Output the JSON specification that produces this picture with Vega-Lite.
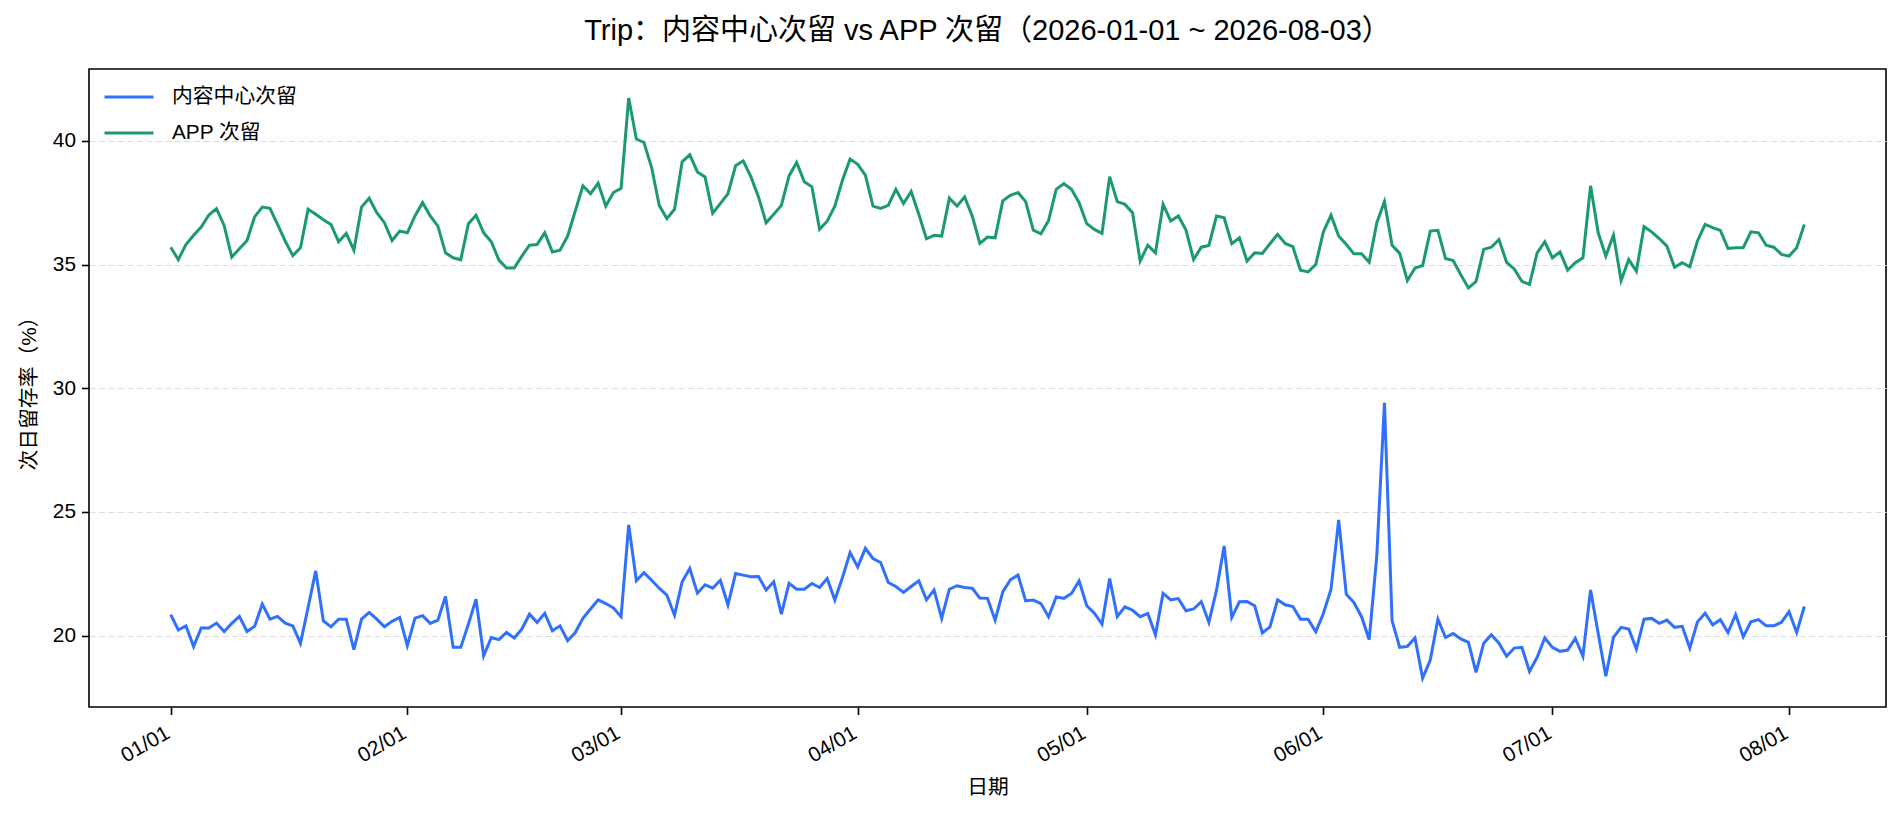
{
"$schema":"https://vega.github.io/schema/vega-lite/v6.json",
"width":1797,"height":638,
"autosize":"none",
"padding":{"left":89,"top":69,"right":18,"bottom":109},
"background":"white",
"title":{"text":"Trip：内容中心次留 vs APP 次留（2026-01-01 ~ 2026-08-03）","fontSize":29,"fontWeight":"normal","color":"black","anchor":"middle","baseline":"bottom","offset":-5.5},
"datasets":{
"content":[
{"date":"2026-01-01","value":20.85},{"date":"2026-01-02","value":20.23},{"date":"2026-01-03","value":20.40},{"date":"2026-01-04","value":19.56},{"date":"2026-01-05","value":20.31},{"date":"2026-01-06","value":20.31},{"date":"2026-01-07","value":20.51},{"date":"2026-01-08","value":20.17},{"date":"2026-01-09","value":20.50},{"date":"2026-01-10","value":20.78},{"date":"2026-01-11","value":20.17},{"date":"2026-01-12","value":20.38},{"date":"2026-01-13","value":21.28},{"date":"2026-01-14","value":20.67},{"date":"2026-01-15","value":20.78},{"date":"2026-01-16","value":20.51},{"date":"2026-01-17","value":20.40},{"date":"2026-01-18","value":19.69},{"date":"2026-01-19","value":21.14},{"date":"2026-01-20","value":22.62},{"date":"2026-01-21","value":20.60},{"date":"2026-01-22","value":20.36},{"date":"2026-01-23","value":20.67},{"date":"2026-01-24","value":20.67},{"date":"2026-01-25","value":19.44},{"date":"2026-01-26","value":20.67},{"date":"2026-01-27","value":20.94},{"date":"2026-01-28","value":20.67},{"date":"2026-01-29","value":20.36},{"date":"2026-01-30","value":20.58},{"date":"2026-01-31","value":20.74},
{"date":"2026-02-01","value":19.60},{"date":"2026-02-02","value":20.71},{"date":"2026-02-03","value":20.81},{"date":"2026-02-04","value":20.50},{"date":"2026-02-05","value":20.63},{"date":"2026-02-06","value":21.59},{"date":"2026-02-07","value":19.53},{"date":"2026-02-08","value":19.53},{"date":"2026-02-09","value":20.47},{"date":"2026-02-10","value":21.48},{"date":"2026-02-11","value":19.19},{"date":"2026-02-12","value":19.93},{"date":"2026-02-13","value":19.84},{"date":"2026-02-14","value":20.13},{"date":"2026-02-15","value":19.91},{"date":"2026-02-16","value":20.27},{"date":"2026-02-17","value":20.87},{"date":"2026-02-18","value":20.54},{"date":"2026-02-19","value":20.91},{"date":"2026-02-20","value":20.20},{"date":"2026-02-21","value":20.40},{"date":"2026-02-22","value":19.80},{"date":"2026-02-23","value":20.13},{"date":"2026-02-24","value":20.70},{"date":"2026-02-25","value":21.08},{"date":"2026-02-26","value":21.45},{"date":"2026-02-27","value":21.30},{"date":"2026-02-28","value":21.12},
{"date":"2026-03-01","value":20.77},{"date":"2026-03-02","value":24.48},{"date":"2026-03-03","value":22.22},{"date":"2026-03-04","value":22.55},{"date":"2026-03-05","value":22.24},{"date":"2026-03-06","value":21.92},{"date":"2026-03-07","value":21.64},{"date":"2026-03-08","value":20.83},{"date":"2026-03-09","value":22.18},{"date":"2026-03-10","value":22.72},{"date":"2026-03-11","value":21.72},{"date":"2026-03-12","value":22.06},{"date":"2026-03-13","value":21.92},{"date":"2026-03-14","value":22.24},{"date":"2026-03-15","value":21.25},{"date":"2026-03-16","value":22.51},{"date":"2026-03-17","value":22.45},{"date":"2026-03-18","value":22.38},{"date":"2026-03-19","value":22.39},{"date":"2026-03-20","value":21.85},{"date":"2026-03-21","value":22.18},{"date":"2026-03-22","value":20.87},{"date":"2026-03-23","value":22.12},{"date":"2026-03-24","value":21.88},{"date":"2026-03-25","value":21.88},{"date":"2026-03-26","value":22.11},{"date":"2026-03-27","value":21.95},{"date":"2026-03-28","value":22.31},{"date":"2026-03-29","value":21.44},{"date":"2026-03-30","value":22.35},{"date":"2026-03-31","value":23.36},
{"date":"2026-04-01","value":22.78},{"date":"2026-04-02","value":23.53},{"date":"2026-04-03","value":23.12},{"date":"2026-04-04","value":22.96},{"date":"2026-04-05","value":22.15},{"date":"2026-04-06","value":21.99},{"date":"2026-04-07","value":21.75},{"date":"2026-04-08","value":21.99},{"date":"2026-04-09","value":22.22},{"date":"2026-04-10","value":21.45},{"date":"2026-04-11","value":21.85},{"date":"2026-04-12","value":20.70},{"date":"2026-04-13","value":21.88},{"date":"2026-04-14","value":22.02},{"date":"2026-04-15","value":21.95},{"date":"2026-04-16","value":21.92},{"date":"2026-04-17","value":21.52},{"date":"2026-04-18","value":21.51},{"date":"2026-04-19","value":20.63},{"date":"2026-04-20","value":21.77},{"date":"2026-04-21","value":22.26},{"date":"2026-04-22","value":22.45},{"date":"2026-04-23","value":21.41},{"date":"2026-04-24","value":21.44},{"date":"2026-04-25","value":21.30},{"date":"2026-04-26","value":20.77},{"date":"2026-04-27","value":21.57},{"date":"2026-04-28","value":21.51},{"date":"2026-04-29","value":21.71},{"date":"2026-04-30","value":22.22},
{"date":"2026-05-01","value":21.21},{"date":"2026-05-02","value":20.91},{"date":"2026-05-03","value":20.47},{"date":"2026-05-04","value":22.31},{"date":"2026-05-05","value":20.78},{"date":"2026-05-06","value":21.17},{"date":"2026-05-07","value":21.03},{"date":"2026-05-08","value":20.77},{"date":"2026-05-09","value":20.90},{"date":"2026-05-10","value":20.04},{"date":"2026-05-11","value":21.71},{"date":"2026-05-12","value":21.45},{"date":"2026-05-13","value":21.50},{"date":"2026-05-14","value":21.01},{"date":"2026-05-15","value":21.08},{"date":"2026-05-16","value":21.38},{"date":"2026-05-17","value":20.54},{"date":"2026-05-18","value":21.84},{"date":"2026-05-19","value":23.63},{"date":"2026-05-20","value":20.74},{"date":"2026-05-21","value":21.37},{"date":"2026-05-22","value":21.38},{"date":"2026-05-23","value":21.21},{"date":"2026-05-24","value":20.11},{"date":"2026-05-25","value":20.36},{"date":"2026-05-26","value":21.45},{"date":"2026-05-27","value":21.25},{"date":"2026-05-28","value":21.18},{"date":"2026-05-29","value":20.67},{"date":"2026-05-30","value":20.67},{"date":"2026-05-31","value":20.16},
{"date":"2026-06-01","value":20.90},{"date":"2026-06-02","value":21.88},{"date":"2026-06-03","value":24.68},{"date":"2026-06-04","value":21.68},{"date":"2026-06-05","value":21.34},{"date":"2026-06-06","value":20.77},{"date":"2026-06-07","value":19.84},{"date":"2026-06-08","value":23.25},{"date":"2026-06-09","value":29.41},{"date":"2026-06-10","value":20.60},{"date":"2026-06-11","value":19.53},{"date":"2026-06-12","value":19.57},{"date":"2026-06-13","value":19.91},{"date":"2026-06-14","value":18.29},{"date":"2026-06-15","value":19.02},{"date":"2026-06-16","value":20.67},{"date":"2026-06-17","value":19.93},{"date":"2026-06-18","value":20.09},{"date":"2026-06-19","value":19.87},{"date":"2026-06-20","value":19.73},{"date":"2026-06-21","value":18.52},{"date":"2026-06-22","value":19.70},{"date":"2026-06-23","value":20.04},{"date":"2026-06-24","value":19.70},{"date":"2026-06-25","value":19.17},{"date":"2026-06-26","value":19.50},{"date":"2026-06-27","value":19.53},{"date":"2026-06-28","value":18.56},{"date":"2026-06-29","value":19.13},{"date":"2026-06-30","value":19.91},
{"date":"2026-07-01","value":19.53},{"date":"2026-07-02","value":19.37},{"date":"2026-07-03","value":19.42},{"date":"2026-07-04","value":19.89},{"date":"2026-07-05","value":19.17},{"date":"2026-07-06","value":21.85},{"date":"2026-07-07","value":20.09},{"date":"2026-07-08","value":18.36},{"date":"2026-07-09","value":19.93},{"date":"2026-07-10","value":20.34},{"date":"2026-07-11","value":20.27},{"date":"2026-07-12","value":19.46},{"date":"2026-07-13","value":20.67},{"date":"2026-07-14","value":20.70},{"date":"2026-07-15","value":20.50},{"date":"2026-07-16","value":20.63},{"date":"2026-07-17","value":20.34},{"date":"2026-07-18","value":20.38},{"date":"2026-07-19","value":19.50},{"date":"2026-07-20","value":20.56},{"date":"2026-07-21","value":20.91},{"date":"2026-07-22","value":20.44},{"date":"2026-07-23","value":20.65},{"date":"2026-07-24","value":20.13},{"date":"2026-07-25","value":20.85},{"date":"2026-07-26","value":19.96},{"date":"2026-07-27","value":20.56},{"date":"2026-07-28","value":20.65},{"date":"2026-07-29","value":20.40},{"date":"2026-07-30","value":20.40},{"date":"2026-07-31","value":20.54},
{"date":"2026-08-01","value":20.97},{"date":"2026-08-02","value":20.13},{"date":"2026-08-03","value":21.18}
],
"app":[
{"date":"2026-01-01","value":35.70},{"date":"2026-01-02","value":35.20},{"date":"2026-01-03","value":35.81},{"date":"2026-01-04","value":36.18},{"date":"2026-01-05","value":36.51},{"date":"2026-01-06","value":37.00},{"date":"2026-01-07","value":37.26},{"date":"2026-01-08","value":36.58},{"date":"2026-01-09","value":35.30},{"date":"2026-01-10","value":35.64},{"date":"2026-01-11","value":35.97},{"date":"2026-01-12","value":36.93},{"date":"2026-01-13","value":37.32},{"date":"2026-01-14","value":37.27},{"date":"2026-01-15","value":36.62},{"date":"2026-01-16","value":35.95},{"date":"2026-01-17","value":35.36},{"date":"2026-01-18","value":35.68},{"date":"2026-01-19","value":37.23},{"date":"2026-01-20","value":37.03},{"date":"2026-01-21","value":36.81},{"date":"2026-01-22","value":36.62},{"date":"2026-01-23","value":35.92},{"date":"2026-01-24","value":36.26},{"date":"2026-01-25","value":35.58},{"date":"2026-01-26","value":37.32},{"date":"2026-01-27","value":37.68},{"date":"2026-01-28","value":37.09},{"date":"2026-01-29","value":36.69},{"date":"2026-01-30","value":35.97},{"date":"2026-01-31","value":36.35},
{"date":"2026-02-01","value":36.28},{"date":"2026-02-02","value":36.96},{"date":"2026-02-03","value":37.50},{"date":"2026-02-04","value":36.96},{"date":"2026-02-05","value":36.55},{"date":"2026-02-06","value":35.47},{"date":"2026-02-07","value":35.27},{"date":"2026-02-08","value":35.19},{"date":"2026-02-09","value":36.65},{"date":"2026-02-10","value":36.99},{"date":"2026-02-11","value":36.28},{"date":"2026-02-12","value":35.92},{"date":"2026-02-13","value":35.18},{"date":"2026-02-14","value":34.86},{"date":"2026-02-15","value":34.86},{"date":"2026-02-16","value":35.34},{"date":"2026-02-17","value":35.78},{"date":"2026-02-18","value":35.81},{"date":"2026-02-19","value":36.28},{"date":"2026-02-20","value":35.51},{"date":"2026-02-21","value":35.58},{"date":"2026-02-22","value":36.15},{"date":"2026-02-23","value":37.16},{"date":"2026-02-24","value":38.18},{"date":"2026-02-25","value":37.86},{"date":"2026-02-26","value":38.28},{"date":"2026-02-27","value":37.36},{"date":"2026-02-28","value":37.91},
{"date":"2026-03-01","value":38.08},{"date":"2026-03-02","value":41.73},{"date":"2026-03-03","value":40.07},{"date":"2026-03-04","value":39.93},{"date":"2026-03-05","value":38.92},{"date":"2026-03-06","value":37.39},{"date":"2026-03-07","value":36.85},{"date":"2026-03-08","value":37.23},{"date":"2026-03-09","value":39.15},{"date":"2026-03-10","value":39.43},{"date":"2026-03-11","value":38.74},{"date":"2026-03-12","value":38.54},{"date":"2026-03-13","value":37.07},{"date":"2026-03-14","value":37.46},{"date":"2026-03-15","value":37.86},{"date":"2026-03-16","value":38.99},{"date":"2026-03-17","value":39.19},{"date":"2026-03-18","value":38.55},{"date":"2026-03-19","value":37.73},{"date":"2026-03-20","value":36.69},{"date":"2026-03-21","value":37.03},{"date":"2026-03-22","value":37.39},{"date":"2026-03-23","value":38.58},{"date":"2026-03-24","value":39.12},{"date":"2026-03-25","value":38.34},{"date":"2026-03-26","value":38.14},{"date":"2026-03-27","value":36.42},{"date":"2026-03-28","value":36.75},{"date":"2026-03-29","value":37.36},{"date":"2026-03-30","value":38.41},{"date":"2026-03-31","value":39.26},
{"date":"2026-04-01","value":39.05},{"date":"2026-04-02","value":38.61},{"date":"2026-04-03","value":37.36},{"date":"2026-04-04","value":37.27},{"date":"2026-04-05","value":37.39},{"date":"2026-04-06","value":38.04},{"date":"2026-04-07","value":37.46},{"date":"2026-04-08","value":37.95},{"date":"2026-04-09","value":37.03},{"date":"2026-04-10","value":36.04},{"date":"2026-04-11","value":36.18},{"date":"2026-04-12","value":36.15},{"date":"2026-04-13","value":37.68},{"date":"2026-04-14","value":37.36},{"date":"2026-04-15","value":37.73},{"date":"2026-04-16","value":36.96},{"date":"2026-04-17","value":35.85},{"date":"2026-04-18","value":36.11},{"date":"2026-04-19","value":36.08},{"date":"2026-04-20","value":37.57},{"date":"2026-04-21","value":37.80},{"date":"2026-04-22","value":37.91},{"date":"2026-04-23","value":37.54},{"date":"2026-04-24","value":36.39},{"date":"2026-04-25","value":36.24},{"date":"2026-04-26","value":36.78},{"date":"2026-04-27","value":38.04},{"date":"2026-04-28","value":38.27},{"date":"2026-04-29","value":38.04},{"date":"2026-04-30","value":37.50},
{"date":"2026-05-01","value":36.65},{"date":"2026-05-02","value":36.42},{"date":"2026-05-03","value":36.26},{"date":"2026-05-04","value":38.55},{"date":"2026-05-05","value":37.54},{"date":"2026-05-06","value":37.43},{"date":"2026-05-07","value":37.09},{"date":"2026-05-08","value":35.14},{"date":"2026-05-09","value":35.78},{"date":"2026-05-10","value":35.47},{"date":"2026-05-11","value":37.43},{"date":"2026-05-12","value":36.76},{"date":"2026-05-13","value":36.96},{"date":"2026-05-14","value":36.39},{"date":"2026-05-15","value":35.20},{"date":"2026-05-16","value":35.70},{"date":"2026-05-17","value":35.77},{"date":"2026-05-18","value":36.96},{"date":"2026-05-19","value":36.89},{"date":"2026-05-20","value":35.84},{"date":"2026-05-21","value":36.08},{"date":"2026-05-22","value":35.14},{"date":"2026-05-23","value":35.47},{"date":"2026-05-24","value":35.45},{"date":"2026-05-25","value":35.84},{"date":"2026-05-26","value":36.22},{"date":"2026-05-27","value":35.85},{"date":"2026-05-28","value":35.72},{"date":"2026-05-29","value":34.77},{"date":"2026-05-30","value":34.70},{"date":"2026-05-31","value":35.00},
{"date":"2026-06-01","value":36.32},{"date":"2026-06-02","value":36.99},{"date":"2026-06-03","value":36.15},{"date":"2026-06-04","value":35.81},{"date":"2026-06-05","value":35.43},{"date":"2026-06-06","value":35.43},{"date":"2026-06-07","value":35.09},{"date":"2026-06-08","value":36.69},{"date":"2026-06-09","value":37.54},{"date":"2026-06-10","value":35.78},{"date":"2026-06-11","value":35.45},{"date":"2026-06-12","value":34.35},{"date":"2026-06-13","value":34.86},{"date":"2026-06-14","value":34.96},{"date":"2026-06-15","value":36.35},{"date":"2026-06-16","value":36.38},{"date":"2026-06-17","value":35.24},{"date":"2026-06-18","value":35.16},{"date":"2026-06-19","value":34.59},{"date":"2026-06-20","value":34.05},{"date":"2026-06-21","value":34.32},{"date":"2026-06-22","value":35.61},{"date":"2026-06-23","value":35.70},{"date":"2026-06-24","value":36.01},{"date":"2026-06-25","value":35.09},{"date":"2026-06-26","value":34.82},{"date":"2026-06-27","value":34.32},{"date":"2026-06-28","value":34.19},{"date":"2026-06-29","value":35.47},{"date":"2026-06-30","value":35.92},
{"date":"2026-07-01","value":35.27},{"date":"2026-07-02","value":35.51},{"date":"2026-07-03","value":34.77},{"date":"2026-07-04","value":35.07},{"date":"2026-07-05","value":35.27},{"date":"2026-07-06","value":38.18},{"date":"2026-07-07","value":36.28},{"date":"2026-07-08","value":35.34},{"date":"2026-07-09","value":36.19},{"date":"2026-07-10","value":34.35},{"date":"2026-07-11","value":35.20},{"date":"2026-07-12","value":34.73},{"date":"2026-07-13","value":36.53},{"date":"2026-07-14","value":36.32},{"date":"2026-07-15","value":36.05},{"date":"2026-07-16","value":35.74},{"date":"2026-07-17","value":34.89},{"date":"2026-07-18","value":35.07},{"date":"2026-07-19","value":34.91},{"date":"2026-07-20","value":35.95},{"date":"2026-07-21","value":36.62},{"date":"2026-07-22","value":36.49},{"date":"2026-07-23","value":36.38},{"date":"2026-07-24","value":35.65},{"date":"2026-07-25","value":35.68},{"date":"2026-07-26","value":35.68},{"date":"2026-07-27","value":36.32},{"date":"2026-07-28","value":36.28},{"date":"2026-07-29","value":35.78},{"date":"2026-07-30","value":35.70},{"date":"2026-07-31","value":35.41},
{"date":"2026-08-01","value":35.34},{"date":"2026-08-02","value":35.68},{"date":"2026-08-03","value":36.62}
]
},
"encoding":{
"x":{"field":"date","type":"temporal",
 "scale":{"type":"utc","domain":[{"year":2025,"month":12,"date":21,"hours":7,"minutes":12,"utc":true},{"year":2026,"month":8,"date":13,"hours":16,"minutes":48,"utc":true}]},
 "axis":{"title":"日期","format":"%m/%d","tickCount":{"interval":"month","step":1},"labelAngle":-30,"labelAlign":"right","labelBaseline":"top","labelOffset":-8,"labelPadding":8,"tickSize":7.5,"grid":false,"domain":false,"titlePadding":12,"labelOverlap":false,"labelFlush":false}},
"y":{"field":"value","type":"quantitative",
 "scale":{"domain":[17.12,42.9],"nice":false,"zero":false},
 "axis":{"title":"次日留存率（%）","values":[20,25,30,35,40],"grid":true,"gridDash":[6,3.5],"gridColor":"#dddddd","gridWidth":1.2,"domain":false,"tickSize":7.5,"labelPadding":6,"titlePadding":13}}
},
"layer":[
{"data":{"name":"content"},"mark":{"type":"line","strokeWidth":3},
 "encoding":{"color":{"datum":"内容中心次留","type":"nominal","scale":{"domain":["内容中心次留","APP 次留"],"range":["#3070FF","#1B9B6D"]},
 "legend":{"title":null,"orient":"none","legendX":14,"legendY":2,"symbolType":"stroke","symbolSize":2400,"symbolStrokeWidth":3,"labelFontSize":20.8,"labelOffset":17,"rowPadding":-10,"labelColor":"black","padding":0}}}},
{"data":{"name":"app"},"mark":{"type":"line","strokeWidth":3},
 "encoding":{"color":{"datum":"APP 次留","type":"nominal"}}}
],
"config":{
 "font":"Liberation Sans, Noto Sans CJK SC, sans-serif",
 "view":{"stroke":"black","strokeWidth":1.6},
 "axis":{"labelFontSize":20.8,"titleFontSize":20.8,"titleFontWeight":"normal","labelColor":"black","titleColor":"black","tickColor":"black","tickWidth":1.6,"labelFont":"Liberation Sans, Noto Sans CJK SC, sans-serif","titleFont":"Liberation Sans, Noto Sans CJK SC, sans-serif"},
 "legend":{"labelFont":"Liberation Sans, Noto Sans CJK SC, sans-serif"},
 "title":{"font":"Liberation Sans, Noto Sans CJK SC, sans-serif"}
}
}
